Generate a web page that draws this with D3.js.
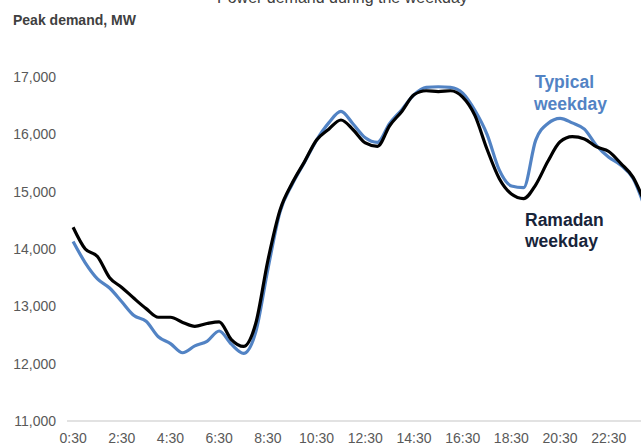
<!DOCTYPE html>
<html>
<head>
<meta charset="utf-8">
<script src="https://cdn.jsdelivr.net/npm/d3@7"></script>
<style>
    body { margin: 0; background: #fff; overflow: hidden; }
    svg { display: block; font-family: "Liberation Sans", Arial, sans-serif; }
</style>
</head>
<body>
<div id="chart"></div>
<script>
// half-hourly periods, 0:30 .. 24:00
const times = ["0:30", "1:00", "1:30", "2:00", "2:30", "3:00", "3:30", "4:00",
    "4:30", "5:00", "5:30", "6:00", "6:30", "7:00", "7:30", "8:00",
    "8:30", "9:00", "9:30", "10:00", "10:30", "11:00", "11:30", "12:00",
    "12:30", "13:00", "13:30", "14:00", "14:30", "15:00", "15:30", "16:00",
    "16:30", "17:00", "17:30", "18:00", "18:30", "19:00", "19:30", "20:00",
    "20:30", "21:00", "21:30", "22:00", "22:30", "23:00", "23:30", "24:00"];

const tickLabels = ["0:30", "2:30", "4:30", "6:30", "8:30", "10:30",
    "12:30", "14:30", "16:30", "18:30", "20:30", "22:30"];

const yTicks = [11000, 12000, 13000, 14000, 15000, 16000, 17000];

// MW
const typical = [14130, 13760, 13480, 13320, 13080, 12840, 12740, 12470,
    12350, 12190, 12310, 12390, 12570, 12340, 12180, 12550,
    13650, 14650, 15130, 15510, 15900, 16200, 16400, 16180,
    15940, 15860, 16190, 16430, 16690, 16820, 16830, 16820,
    16720, 16420, 16000, 15380, 15100, 15070, 15900, 16190,
    16280, 16200, 16090, 15800, 15600, 15460, 15230, 14700];

const ramadan = [14380, 14000, 13870, 13500, 13330, 13140, 12960, 12810,
    12810, 12720, 12650, 12700, 12730, 12420, 12300, 12700,
    13800, 14680, 15150, 15520, 15900, 16090, 16250, 16080,
    15850, 15790, 16150, 16400, 16690, 16760, 16745, 16760,
    16650, 16330, 15740, 15230, 14960, 14880, 15120, 15530,
    15870, 15960, 15920, 15780, 15700, 15490, 15250, 14780];

const width = 641, height = 446;

const svg = d3.select("#chart").append("svg")
    .attr("width", width)
    .attr("height", height);

// title, cut off at the top edge in the original picture
svg.append("text")
    .attr("x", 217)
    .attr("y", 3)
    .attr("font-size", "16px")
    .attr("fill", "#404040")
    .text("Power demand during the weekday");

svg.append("text")
    .attr("x", 13)
    .attr("y", 25)
    .attr("font-size", "14px")
    .attr("font-weight", "bold")
    .attr("fill", "#404040")
    .text("Peak demand, MW");

const step = 12.175;
const x = d3.scaleBand()
    .domain(times)
    .range([67, 67 + step * times.length]);

const y = d3.scaleLinear()
    .domain([11000, 17000])
    .range([421, 77]);

const cx = d => x(d) + x.bandwidth() / 2;

// baseline
svg.append("line")
    .attr("x1", 67).attr("x2", width)
    .attr("y1", y(11000)).attr("y2", y(11000))
    .attr("stroke", "#d9d9d9")
    .attr("stroke-width", 1.5);

const yAxis = svg.append("g")
    .attr("transform", "translate(56,0)")
    .call(d3.axisLeft(y).tickValues(yTicks).tickSize(0).tickPadding(0).tickFormat(d3.format(",")));
yAxis.select(".domain").remove();
yAxis.selectAll("text")
    .attr("font-size", "14px")
    .attr("fill", "#595959")
    .attr("font-family", "Liberation Sans, Arial, sans-serif");

const xAxis = svg.append("g")
    .attr("transform", "translate(0,433)")
    .call(d3.axisBottom(x).tickValues(tickLabels).tickSize(0).tickPadding(0));
xAxis.select(".domain").remove();
xAxis.selectAll("text")
    .attr("font-size", "14px")
    .attr("fill", "#595959")
    .attr("font-family", "Liberation Sans, Arial, sans-serif");

const line = d3.line()
    .x((d, i) => cx(times[i]))
    .y(d => y(d))
    .curve(d3.curveMonotoneX);

svg.append("path")
    .datum(typical)
    .attr("fill", "none")
    .attr("stroke", "#5283c4")
    .attr("stroke-width", 3.2)
    .attr("stroke-linejoin", "round")
    .attr("d", line);

svg.append("path")
    .datum(ramadan)
    .attr("fill", "none")
    .attr("stroke", "#000")
    .attr("stroke-width", 3.2)
    .attr("stroke-linejoin", "round")
    .attr("d", line);

// series labels
const typLabel = svg.append("text")
    .attr("font-size", "17.5px")
    .attr("font-weight", "bold")
    .attr("fill", "#5283c4");
typLabel.append("tspan").attr("x", 535).attr("y", 88).text("Typical");
typLabel.append("tspan").attr("x", 534).attr("y", 110).text("weekday");

const ramLabel = svg.append("text")
    .attr("font-size", "17.5px")
    .attr("font-weight", "bold")
    .attr("fill", "#17243a");
ramLabel.append("tspan").attr("x", 525).attr("y", 226).text("Ramadan");
ramLabel.append("tspan").attr("x", 525).attr("y", 247).text("weekday");
</script>
</body>
</html>
